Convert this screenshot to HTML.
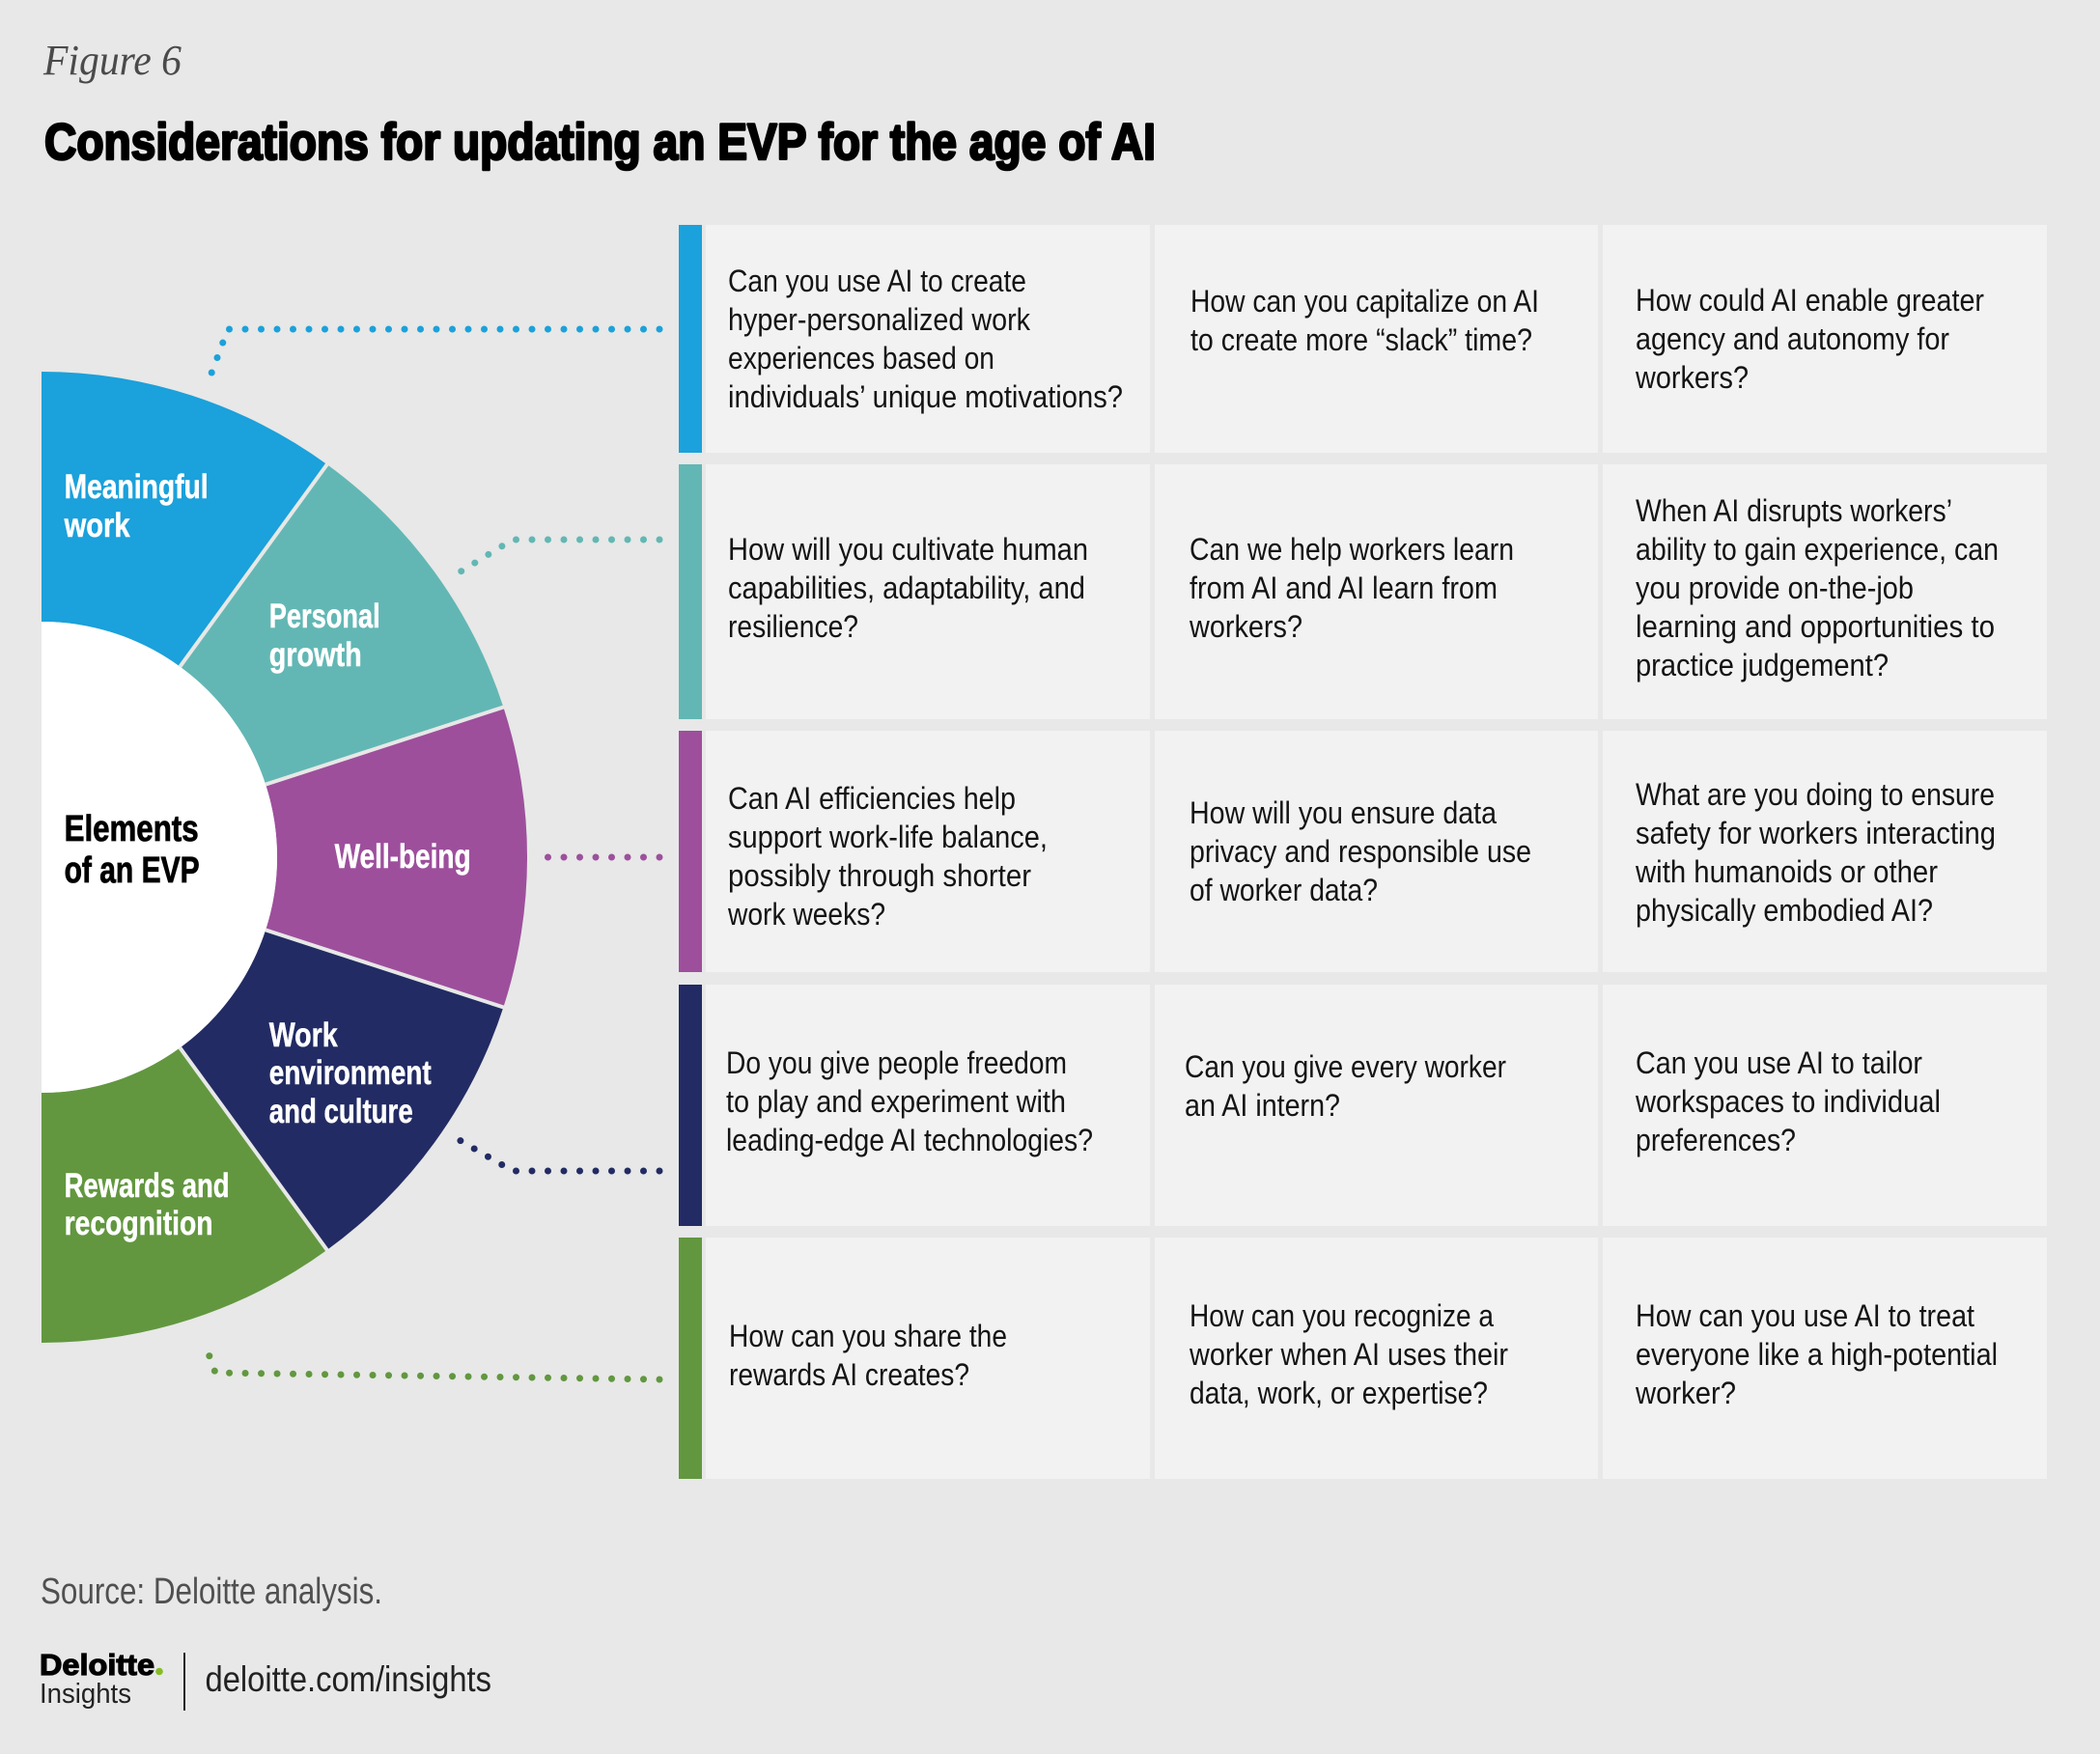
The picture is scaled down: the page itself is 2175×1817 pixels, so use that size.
<!DOCTYPE html>
<html>
<head>
<meta charset="utf-8">
<style>
html,body{margin:0;padding:0;background:#e7e8e7;}
svg{display:block;}
.c{font-family:"Liberation Sans Narrow","Liberation Sans",sans-serif;font-size:32px;fill:#141414;}
.l{font-family:"Liberation Sans Narrow","Liberation Sans",sans-serif;font-size:35px;font-weight:bold;fill:#fff;stroke:#fff;stroke-width:0.5;}
</style>
</head>
<body>
<svg width="2175" height="1817" viewBox="0 0 2175 1817" xmlns="http://www.w3.org/2000/svg">
<rect width="2175" height="1817" fill="#e7e8e7"/>

<text x="45" y="77" font-family="Liberation Serif, serif" font-style="italic" font-size="44" fill="#4a4a4a" textLength="143" lengthAdjust="spacingAndGlyphs">Figure 6</text>
<text x="46" y="165" font-family="Liberation Sans Narrow, Liberation Sans, sans-serif" font-weight="bold" font-size="53" fill="#000" stroke="#000" stroke-width="2.6" stroke-linejoin="round" textLength="1151" lengthAdjust="spacingAndGlyphs">Considerations for updating an EVP for the age of AI</text>

<!-- semicircle -->
<path d="M43,385 A503,503 0 0 1 338.7,481.1 L186.4,690.6 A244,244 0 0 0 43,644 Z" fill="#1ba1db"/>
<path d="M338.7,481.1 A503,503 0 0 1 521.4,732.6 L275.1,812.6 A244,244 0 0 0 186.4,690.6 Z" fill="#62b7b4"/>
<path d="M521.4,732.6 A503,503 0 0 1 521.4,1043.4 L275.1,963.4 A244,244 0 0 0 275.1,812.6 Z" fill="#9d4f9c"/>
<path d="M521.4,1043.4 A503,503 0 0 1 338.7,1294.9 L186.4,1085.4 A244,244 0 0 0 275.1,963.4 Z" fill="#222b63"/>
<path d="M338.7,1294.9 A503,503 0 0 1 43,1391 L43,1132 A244,244 0 0 0 186.4,1085.4 Z" fill="#62973f"/>
<path d="M43,644 A244,244 0 0 1 43,1132 Z" fill="#ffffff"/>
<g stroke="#e7e8e7" stroke-width="4">
<line x1="186.4" y1="690.6" x2="340.5" y2="478.7"/>
<line x1="275.1" y1="812.6" x2="524.3" y2="731.6"/>
<line x1="275.1" y1="963.4" x2="524.3" y2="1044.4"/>
<line x1="186.4" y1="1085.4" x2="340.5" y2="1297.3"/>
</g>

<!-- labels -->
<text class="l" x="66.6" y="516" textLength="149" lengthAdjust="spacingAndGlyphs">Meaningful</text>
<text class="l" x="66.6" y="556" textLength="68" lengthAdjust="spacingAndGlyphs">work</text>
<text class="l" x="278.7" y="650" textLength="115" lengthAdjust="spacingAndGlyphs">Personal</text>
<text class="l" x="278.7" y="690" textLength="96" lengthAdjust="spacingAndGlyphs">growth</text>
<text class="l" x="346.6" y="899" textLength="141" lengthAdjust="spacingAndGlyphs">Well-being</text>
<text class="l" x="278.7" y="1084" textLength="71" lengthAdjust="spacingAndGlyphs">Work</text>
<text class="l" x="278.7" y="1123" textLength="168" lengthAdjust="spacingAndGlyphs">environment</text>
<text class="l" x="278.7" y="1163" textLength="149" lengthAdjust="spacingAndGlyphs">and culture</text>
<text class="l" x="66.6" y="1240" textLength="171" lengthAdjust="spacingAndGlyphs">Rewards and</text>
<text class="l" x="66.6" y="1279" textLength="154" lengthAdjust="spacingAndGlyphs">recognition</text>
<text class="l" x="66.6" y="871" style="fill:#000;stroke:#000;stroke-width:0.8;font-size:38px" textLength="139" lengthAdjust="spacingAndGlyphs">Elements</text>
<text class="l" x="66.6" y="914" style="fill:#000;stroke:#000;stroke-width:0.8;font-size:38px" textLength="140" lengthAdjust="spacingAndGlyphs">of an EVP</text>

<!-- dotted connectors -->
<g fill="none" stroke-width="7" stroke-linecap="round" stroke-dasharray="0 16.5">
<path d="M683,341 L236,341 L214,400" stroke="#1ba1db"/>
<path d="M683,559 L531,559 L474,594" stroke="#62b7b4"/>
<path d="M683,888 L564,888" stroke="#9d4f9c"/>
<path d="M683,1213 L531,1213 L474,1180" stroke="#222b63"/>
<path d="M683,1429 L223,1422 L212,1391" stroke="#62973f"/>
</g>

<!-- table -->
<g>
<rect x="703" y="233" width="24" height="236" fill="#1ba1db"/>
<rect x="703" y="481" width="24" height="264" fill="#62b7b4"/>
<rect x="703" y="757" width="24" height="250" fill="#9d4f9c"/>
<rect x="703" y="1020" width="24" height="250" fill="#222b63"/>
<rect x="703" y="1282" width="24" height="250" fill="#62973f"/>
</g>
<g fill="#f2f2f2">
<rect x="731" y="233" width="460" height="236"/><rect x="1196" y="233" width="459" height="236"/><rect x="1660" y="233" width="460" height="236"/>
<rect x="731" y="481" width="460" height="264"/><rect x="1196" y="481" width="459" height="264"/><rect x="1660" y="481" width="460" height="264"/>
<rect x="731" y="757" width="460" height="250"/><rect x="1196" y="757" width="459" height="250"/><rect x="1660" y="757" width="460" height="250"/>
<rect x="731" y="1020" width="460" height="250"/><rect x="1196" y="1020" width="459" height="250"/><rect x="1660" y="1020" width="460" height="250"/>
<rect x="731" y="1282" width="460" height="250"/><rect x="1196" y="1282" width="459" height="250"/><rect x="1660" y="1282" width="460" height="250"/>
</g>

<!-- row 1 -->
<text class="c" x="754" y="302" textLength="309" lengthAdjust="spacingAndGlyphs">Can you use AI to create</text>
<text class="c" x="754" y="342" textLength="313" lengthAdjust="spacingAndGlyphs">hyper-personalized work</text>
<text class="c" x="754" y="382" textLength="276" lengthAdjust="spacingAndGlyphs">experiences based on</text>
<text class="c" x="754" y="422" textLength="409" lengthAdjust="spacingAndGlyphs">individuals’ unique motivations?</text>
<text class="c" x="1233" y="323" textLength="361" lengthAdjust="spacingAndGlyphs">How can you capitalize on AI</text>
<text class="c" x="1233" y="363" textLength="354" lengthAdjust="spacingAndGlyphs">to create more “slack” time?</text>
<text class="c" x="1694" y="322" textLength="361" lengthAdjust="spacingAndGlyphs">How could AI enable greater</text>
<text class="c" x="1694" y="362" textLength="325" lengthAdjust="spacingAndGlyphs">agency and autonomy for</text>
<text class="c" x="1694" y="402" textLength="117" lengthAdjust="spacingAndGlyphs">workers?</text>

<!-- row 2 -->
<text class="c" x="754" y="580" textLength="373" lengthAdjust="spacingAndGlyphs">How will you cultivate human</text>
<text class="c" x="754" y="620" textLength="370" lengthAdjust="spacingAndGlyphs">capabilities, adaptability, and</text>
<text class="c" x="754" y="660" textLength="135" lengthAdjust="spacingAndGlyphs">resilience?</text>
<text class="c" x="1232" y="580" textLength="336" lengthAdjust="spacingAndGlyphs">Can we help workers learn</text>
<text class="c" x="1232" y="620" textLength="319" lengthAdjust="spacingAndGlyphs">from AI and AI learn from</text>
<text class="c" x="1232" y="660" textLength="117" lengthAdjust="spacingAndGlyphs">workers?</text>
<text class="c" x="1694" y="540" textLength="328" lengthAdjust="spacingAndGlyphs">When AI disrupts workers’</text>
<text class="c" x="1694" y="580" textLength="376" lengthAdjust="spacingAndGlyphs">ability to gain experience, can</text>
<text class="c" x="1694" y="620" textLength="288" lengthAdjust="spacingAndGlyphs">you provide on-the-job</text>
<text class="c" x="1694" y="660" textLength="372" lengthAdjust="spacingAndGlyphs">learning and opportunities to</text>
<text class="c" x="1694" y="700" textLength="262" lengthAdjust="spacingAndGlyphs">practice judgement?</text>

<!-- row 3 -->
<text class="c" x="754" y="838" textLength="298" lengthAdjust="spacingAndGlyphs">Can AI efficiencies help</text>
<text class="c" x="754" y="878" textLength="331" lengthAdjust="spacingAndGlyphs">support work-life balance,</text>
<text class="c" x="754" y="918" textLength="314" lengthAdjust="spacingAndGlyphs">possibly through shorter</text>
<text class="c" x="754" y="958" textLength="163" lengthAdjust="spacingAndGlyphs">work weeks?</text>
<text class="c" x="1232" y="853" textLength="318" lengthAdjust="spacingAndGlyphs">How will you ensure data</text>
<text class="c" x="1232" y="893" textLength="354" lengthAdjust="spacingAndGlyphs">privacy and responsible use</text>
<text class="c" x="1232" y="933" textLength="195" lengthAdjust="spacingAndGlyphs">of worker data?</text>
<text class="c" x="1694" y="834" textLength="372" lengthAdjust="spacingAndGlyphs">What are you doing to ensure</text>
<text class="c" x="1694" y="874" textLength="373" lengthAdjust="spacingAndGlyphs">safety for workers interacting</text>
<text class="c" x="1694" y="914" textLength="313" lengthAdjust="spacingAndGlyphs">with humanoids or other</text>
<text class="c" x="1694" y="954" textLength="308" lengthAdjust="spacingAndGlyphs">physically embodied AI?</text>

<!-- row 4 -->
<text class="c" x="752" y="1112" textLength="353" lengthAdjust="spacingAndGlyphs">Do you give people freedom</text>
<text class="c" x="752" y="1152" textLength="352" lengthAdjust="spacingAndGlyphs">to play and experiment with</text>
<text class="c" x="752" y="1192" textLength="380" lengthAdjust="spacingAndGlyphs">leading-edge AI technologies?</text>
<text class="c" x="1227" y="1116" textLength="333" lengthAdjust="spacingAndGlyphs">Can you give every worker</text>
<text class="c" x="1227" y="1156" textLength="161" lengthAdjust="spacingAndGlyphs">an AI intern?</text>
<text class="c" x="1694" y="1112" textLength="297" lengthAdjust="spacingAndGlyphs">Can you use AI to tailor</text>
<text class="c" x="1694" y="1152" textLength="316" lengthAdjust="spacingAndGlyphs">workspaces to individual</text>
<text class="c" x="1694" y="1192" textLength="166" lengthAdjust="spacingAndGlyphs">preferences?</text>

<!-- row 5 -->
<text class="c" x="755" y="1395" textLength="288" lengthAdjust="spacingAndGlyphs">How can you share the</text>
<text class="c" x="755" y="1435" textLength="249" lengthAdjust="spacingAndGlyphs">rewards AI creates?</text>
<text class="c" x="1232" y="1374" textLength="315" lengthAdjust="spacingAndGlyphs">How can you recognize a</text>
<text class="c" x="1232" y="1414" textLength="330" lengthAdjust="spacingAndGlyphs">worker when AI uses their</text>
<text class="c" x="1232" y="1454" textLength="309" lengthAdjust="spacingAndGlyphs">data, work, or expertise?</text>
<text class="c" x="1694" y="1374" textLength="351" lengthAdjust="spacingAndGlyphs">How can you use AI to treat</text>
<text class="c" x="1694" y="1414" textLength="375" lengthAdjust="spacingAndGlyphs">everyone like a high-potential</text>
<text class="c" x="1694" y="1454" textLength="104" lengthAdjust="spacingAndGlyphs">worker?</text>

<!-- footer -->
<text x="42" y="1661" font-family="Liberation Sans Narrow, Liberation Sans, sans-serif" font-size="38" fill="#505050" textLength="354" lengthAdjust="spacingAndGlyphs">Source: Deloitte analysis.</text>
<text x="41" y="1735" font-family="Liberation Sans, sans-serif" font-weight="bold" font-size="31" fill="#000" stroke="#000" stroke-width="1.2" textLength="119" lengthAdjust="spacingAndGlyphs">Deloitte</text>
<circle cx="165" cy="1731.5" r="3.8" fill="#86bc25"/>
<text x="41" y="1764" font-family="Liberation Sans Narrow, Liberation Sans, sans-serif" font-size="29" fill="#222" textLength="95" lengthAdjust="spacingAndGlyphs">Insights</text>
<line x1="191" y1="1712" x2="191" y2="1772" stroke="#222" stroke-width="2"/>
<text x="212.5" y="1752" font-family="Liberation Sans Narrow, Liberation Sans, sans-serif" font-size="37" fill="#222" textLength="296.5" lengthAdjust="spacingAndGlyphs">deloitte.com/insights</text>
</svg>
</body>
</html>
